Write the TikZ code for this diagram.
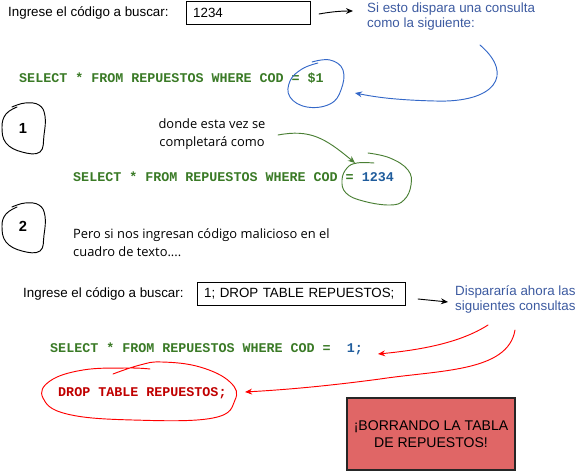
\documentclass[tikz,border=0pt]{standalone}
\usepackage{fontspec}
\setmainfont{Liberation Sans}
\setmonofont{Liberation Mono}
\newfontfamily\handfont{Open Sans}
\usepackage{xcolor}
\usetikzlibrary{arrows.meta}
\definecolor{sqlgreen}{HTML}{3A7A26}
\definecolor{loopgreen}{HTML}{4A7F34}
\definecolor{noteblue}{HTML}{3C5AA0}
\definecolor{valblue}{HTML}{1F5C9C}
\definecolor{loopblue}{HTML}{3468C8}
\definecolor{dropred}{HTML}{C00000}
\definecolor{alertfill}{HTML}{E06666}

\begin{document}
\begin{tikzpicture}
    [
    x=0.03cm, y=-0.03cm,
    txt/.style = {inner sep=0pt, anchor=west, font=\fontsize{11.4}{12.75}\selectfont},
    note/.style = {inner sep=0pt, anchor=north west, align=left, text=noteblue, font=\fontsize{11.4}{12.75}\selectfont},
    hand/.style = {inner sep=0pt, align=center, font=\handfont\fontsize{11}{15.3}\selectfont},
    sql/.style = {inner sep=0pt, anchor=west, text=sqlgreen, font=\ttfamily\bfseries\fontsize{11.4}{13}\selectfont},
    inbox/.style = {draw, line width=0.9pt, anchor=west, minimum height=0.69cm, inner xsep=0.2cm, align=left, font=\fontsize{11.4}{12.75}\selectfont},
    mark1/.style = {line width=0.8pt, line cap=round},
    tip/.style = {-{Stealth[length=6pt,width=5pt]}},
    ]
\useasboundingbox (0,0) rectangle (577,471);

% first query
\node[txt] (ask1) at (8,13) {Ingrese el código a buscar:};
\node[inbox, text width=3.32cm] (box1) at (186,13) {1234};
\node[note] (note1) at (367,3) {Si esto dispara una consulta\\como la siguiente:};
\coordinate (a1s) at (319,14);
\coordinate (a1e) at (353,11);
\draw[mark1, tip] (a1s) .. controls (330,12) and (340,11) .. (a1e);

\node[sql] (q1) at (19,78) {SELECT * FROM REPUESTOS WHERE COD = \$1};
\draw[mark1, loopblue] plot [smooth, tension=0.7] coordinates {(312,62) (330,60) (343,70) (341,90) (330,104) (307,107) (290,97) (290,81) (302,69) (318,63)};
\coordinate (b1s) at (480,45);
\coordinate (b1e) at (355,93);
\draw[mark1, loopblue, tip] (b1s) .. controls (515,75) and (495,103) .. (435,101) .. controls (395,100) and (375,97) .. (b1e);

\draw[mark1] plot [smooth, tension=0.7] coordinates {(12,107) (25,103) (39,105) (45,116) (44,135) (40,152) (22,152) (6,143) (2,127) (6,114) (17,107)};
\node[font=\bfseries\fontsize{12.5}{14}\selectfont] (n1) at (23,128) {1};

\node[hand] (hint) at (212,134) {donde esta vez se\\completará como};
\coordinate (g1s) at (278,135);
\coordinate (g1e) at (355,163);
\draw[mark1, loopgreen, tip] (g1s) .. controls (310,129) and (325,138) .. (g1e);

\node[sql] (q2) at (73,177) {SELECT * FROM REPUESTOS WHERE COD = \textcolor{valblue}{1234}};
\draw[mark1, loopgreen] plot [smooth, tension=0.7] coordinates {(368,153) (390,158) (408,170) (411,185) (404,200) (390,205) (363,201) (346,193) (342,180) (347,168) (357,163) (374,163)};

\draw[mark1] plot [smooth, tension=0.7] coordinates {(12,207) (25,203) (39,205) (45,216) (44,235) (40,251) (22,251) (6,242) (2,226) (6,214) (17,207)};
\node[font=\bfseries\fontsize{12.5}{14}\selectfont] (n2) at (23,226) {2};

\node[hand, anchor=north west, align=left] (warn) at (73,228) {Pero si nos ingresan código malicioso en el\\cuadro de texto....};

% second query
\node[txt] (ask2) at (23,294) {Ingrese el código a buscar:};
\node[inbox, text width=5.84cm] (box2) at (197,294) {1; DROP TABLE REPUESTOS;};
\node[note] (note2) at (455,285) {Dispararía ahora las\\siguientes consultas};
\coordinate (a2s) at (418,299);
\coordinate (a2e) at (448,302);
\draw[mark1, tip] (a2s) -- (a2e);

\node[sql] (q3) at (50,349) {SELECT * FROM REPUESTOS WHERE COD = \ \textcolor{valblue}{1;}};
\coordinate (r1s) at (488,325);
\coordinate (r1e) at (378,354);
\draw[mark1, red, tip] (r1s) .. controls (460,343) and (420,350) .. (r1e);

\node[sql, text=dropred] (q4) at (58,393) {DROP TABLE REPUESTOS;};
\draw[mark1, red] plot [smooth, tension=0.7] coordinates {(113,374) (140,365) (162,362) (200,367) (230,382) (235,400) (213,418) (133,420) (67,414) (43,398) (50,381) (83,370) (127,368) (150,369)};
\coordinate (r2s) at (515,330);
\coordinate (r2e) at (245,392);
\draw[mark1, red, tip] (r2s) .. controls (508,372) and (440,370) .. (380,379) .. controls (320,387) and (280,390) .. (r2e);

\node[draw=black!85, line width=0.9pt, fill=alertfill, minimum width=5.04cm, minimum height=2.16cm, align=center, font=\fontsize{12}{15}\selectfont] (alert) at (431,434) {¡BORRANDO LA TABLA\\DE REPUESTOS!};

\end{tikzpicture}
\end{document}
